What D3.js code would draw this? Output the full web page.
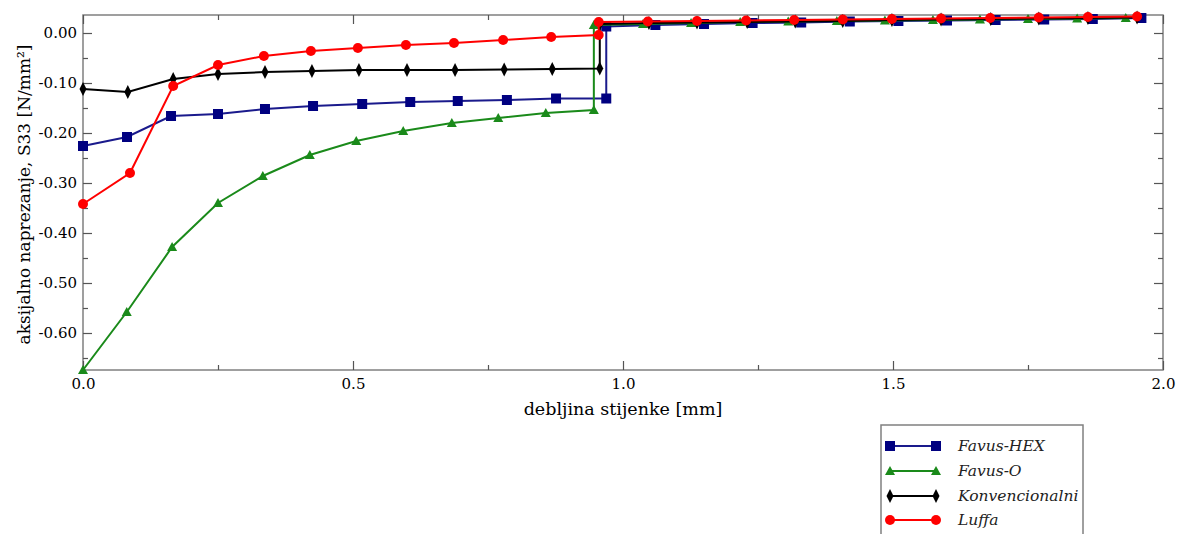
<!DOCTYPE html>
<html>
<head>
<meta charset="utf-8">
<script src="https://cdn.jsdelivr.net/npm/d3@7/dist/d3.min.js"></script>
<style>
  body { margin: 0; background: #fff; }
  svg { display: block; }
</style>
</head>
<body>
<svg id="chart" width="1177" height="534"></svg>
<script>
// ---- data ----
const seriesNames = ["Favus-HEX", "Favus-O", "Konvencionalni", "Luffa"];

const hexX = [0, 0.0815, 0.163, 0.25, 0.337, 0.426, 0.517, 0.606, 0.694, 0.785, 0.876, 0.969,
              0.969, 1.06, 1.15, 1.24, 1.33, 1.42, 1.51, 1.60, 1.69, 1.78, 1.87, 1.96];
const hexY = [-0.226, -0.208, -0.166, -0.162, -0.152, -0.146, -0.142, -0.138, -0.136, -0.134, -0.131, -0.131,
              0.013, 0.016, 0.018, 0.020, 0.021, 0.023, 0.024, 0.025, 0.026, 0.027, 0.028, 0.030];

const oX = [0, 0.081, 0.165, 0.25, 0.333, 0.42, 0.506, 0.593, 0.683, 0.769, 0.857, 0.946,
            0.946, 1.037, 1.126, 1.217, 1.306, 1.396, 1.485, 1.574, 1.661, 1.75, 1.841, 1.931];
const oY = [-0.674, -0.558, -0.428, -0.340, -0.286, -0.244, -0.216, -0.196, -0.180, -0.170, -0.160, -0.154,
            0.016, 0.018, 0.020, 0.022, 0.023, 0.024, 0.025, 0.026, 0.027, 0.028, 0.029, 0.030];

const konX = [0, 0.083, 0.167, 0.25, 0.337, 0.424, 0.511, 0.6, 0.689, 0.78, 0.869, 0.957,
              0.957, 1.048, 1.137, 1.23, 1.319, 1.407, 1.498, 1.589, 1.681, 1.77, 1.861, 1.952];
const konY = [-0.112, -0.118, -0.092, -0.082, -0.078, -0.076, -0.074, -0.074, -0.074, -0.073, -0.072, -0.071,
              0.018, 0.020, 0.021, 0.022, 0.023, 0.024, 0.026, 0.027, 0.028, 0.029, 0.030, 0.031];

const lufX = [0, 0.087, 0.167, 0.25, 0.335, 0.422, 0.509, 0.598, 0.687, 0.778, 0.867, 0.955,
              0.955, 1.046, 1.137, 1.228, 1.317, 1.407, 1.498, 1.589, 1.68, 1.77, 1.861, 1.952];
const lufY = [-0.342, -0.280, -0.106, -0.064, -0.046, -0.036, -0.030, -0.024, -0.020, -0.014, -0.008, -0.004,
              0.022, 0.023, 0.024, 0.025, 0.026, 0.027, 0.028, 0.029, 0.030, 0.031, 0.032, 0.033];

const xMajorTicks = [0, 0.5, 1.0, 1.5, 2.0];
const xMinorTicks = [0.25, 0.75, 1.25, 1.75];
const yMajorTicks = [0, -0.1, -0.2, -0.3, -0.4, -0.5, -0.6];
const yMinorTicks = [-0.05, -0.15, -0.25, -0.35, -0.45, -0.55, -0.65];

const xTitle = "debljina stijenke [mm]";
const yTitle = "aksijalno naprezanje, S33 [N/mm²]";

// ---- layout ----
const SERIF = "DejaVu Serif";
const L = 83, R = 1163, T = 15, B = 370;
const svg = d3.select("#chart");
const x = d3.scaleLinear().domain([0, 2.0]).range([L, R]);
const y = d3.scaleLinear().domain([-0.674, 0.036]).range([B, T]);
const loc = d3.formatLocale({ decimal: ".", thousands: ",", grouping: [3], currency: ["", ""], minus: "-" });

const frameColor = "#808080";
const tickColor = "#555";

svg.append("rect").attr("x", L).attr("y", T).attr("width", R - L).attr("height", B - T)
  .attr("fill", "none").attr("stroke", frameColor).attr("stroke-width", 1.5);

function tickAxis(axisGen, transform, vals, size) {
  const g = svg.append("g").attr("transform", transform)
    .call(axisGen.tickValues(vals).tickSize(size).tickFormat(""));
  g.select(".domain").remove();
  g.selectAll(".tick line").attr("stroke", tickColor).attr("stroke-width", 1.2);
  return g;
}
tickAxis(d3.axisTop(x), `translate(0,${B})`, xMajorTicks, 9);
tickAxis(d3.axisTop(x), `translate(0,${B})`, xMinorTicks, 5);
tickAxis(d3.axisBottom(x), `translate(0,${T})`, xMajorTicks, 9);
tickAxis(d3.axisBottom(x), `translate(0,${T})`, xMinorTicks, 5);
tickAxis(d3.axisRight(y), `translate(${L},0)`, yMajorTicks, 9);
tickAxis(d3.axisRight(y), `translate(${L},0)`, yMinorTicks, 5);
tickAxis(d3.axisLeft(y), `translate(${R},0)`, yMajorTicks, 9);
tickAxis(d3.axisLeft(y), `translate(${R},0)`, yMinorTicks, 5);

const xl = svg.append("g").attr("transform", `translate(0,${B})`)
  .call(d3.axisBottom(x).tickValues(xMajorTicks).tickSize(0).tickPadding(0).tickFormat(loc.format(".1f")));
xl.select(".domain").remove();
xl.attr("font-family", SERIF).attr("font-size", 15);
xl.selectAll("text").attr("fill", "#000").attr("dy", null).attr("y", 19);

const yl = svg.append("g").attr("transform", `translate(${L},0)`)
  .call(d3.axisLeft(y).tickValues(yMajorTicks).tickSize(0).tickPadding(6).tickFormat(loc.format(".2f")));
yl.select(".domain").remove();
yl.attr("font-family", SERIF).attr("font-size", 15);
yl.selectAll("text").attr("fill", "#000");

svg.append("text").attr("x", (L + R) / 2).attr("y", 415).attr("text-anchor", "middle")
  .attr("font-family", SERIF).attr("font-size", 17.5).attr("fill", "#000").text(xTitle);
svg.append("text").attr("transform", `translate(30,${(T + B) / 2 + 2}) rotate(-90)`)
  .attr("text-anchor", "middle").attr("font-family", SERIF).attr("font-size", 17)
  .attr("fill", "#000").text(yTitle);

const series = [
  { name: seriesNames[0], xs: hexX, ys: hexY, line: "#1a1a8c", fill: "#000080", sym: "square" },
  { name: seriesNames[1], xs: oX, ys: oY, line: "#1a8a1a", fill: "#1a8a1a", sym: "triangle" },
  { name: seriesNames[2], xs: konX, ys: konY, line: "#000", fill: "#000", sym: "diamond" },
  { name: seriesNames[3], xs: lufX, ys: lufY, line: "#ff0000", fill: "#ff0000", sym: "circle" }
];

function drawMarker(g, sym, cx, cy, fill) {
  if (sym === "square") {
    g.append("rect").attr("x", cx - 5).attr("y", cy - 5).attr("width", 10).attr("height", 10).attr("fill", fill);
  } else if (sym === "triangle") {
    g.append("path").attr("d", `M${cx},${cy - 5}L${cx + 5},${cy + 4}L${cx - 5},${cy + 4}Z`).attr("fill", fill);
  } else if (sym === "diamond") {
    g.append("path").attr("d", `M${cx},${cy - 7}L${cx + 3.5},${cy}L${cx},${cy + 7}L${cx - 3.5},${cy}Z`).attr("fill", fill);
  } else {
    g.append("circle").attr("cx", cx).attr("cy", cy).attr("r", 5).attr("fill", fill);
  }
}

const line = d3.line().x(d => x(d[0])).y(d => y(d[1]));
series.forEach(s => {
  const pts = s.xs.map((v, i) => [v, s.ys[i]]);
  const g = svg.append("g");
  g.append("path").attr("d", line(pts)).attr("fill", "none").attr("stroke", s.line).attr("stroke-width", 2);
  pts.forEach(p => drawMarker(g, s.sym, x(p[0]), y(p[1]), s.fill));
});

const lg = svg.append("g");
lg.append("rect").attr("x", 881).attr("y", 425).attr("width", 202).attr("height", 130)
  .attr("fill", "#fff").attr("stroke", frameColor).attr("stroke-width", 1.5);
const rowY = [446, 471, 496, 520];
series.forEach((s, i) => {
  const cy = rowY[i];
  lg.append("line").attr("x1", 890).attr("x2", 936).attr("y1", cy).attr("y2", cy)
    .attr("stroke", s.line).attr("stroke-width", 2);
  drawMarker(lg, s.sym, 890, cy, s.fill);
  drawMarker(lg, s.sym, 936, cy, s.fill);
  lg.append("text").attr("x", 958).attr("y", cy + 5)
    .attr("font-family", SERIF).attr("font-size", 15.5).attr("font-style", "italic")
    .attr("fill", "#222").text(s.name);
});
</script>
</body>
</html>
